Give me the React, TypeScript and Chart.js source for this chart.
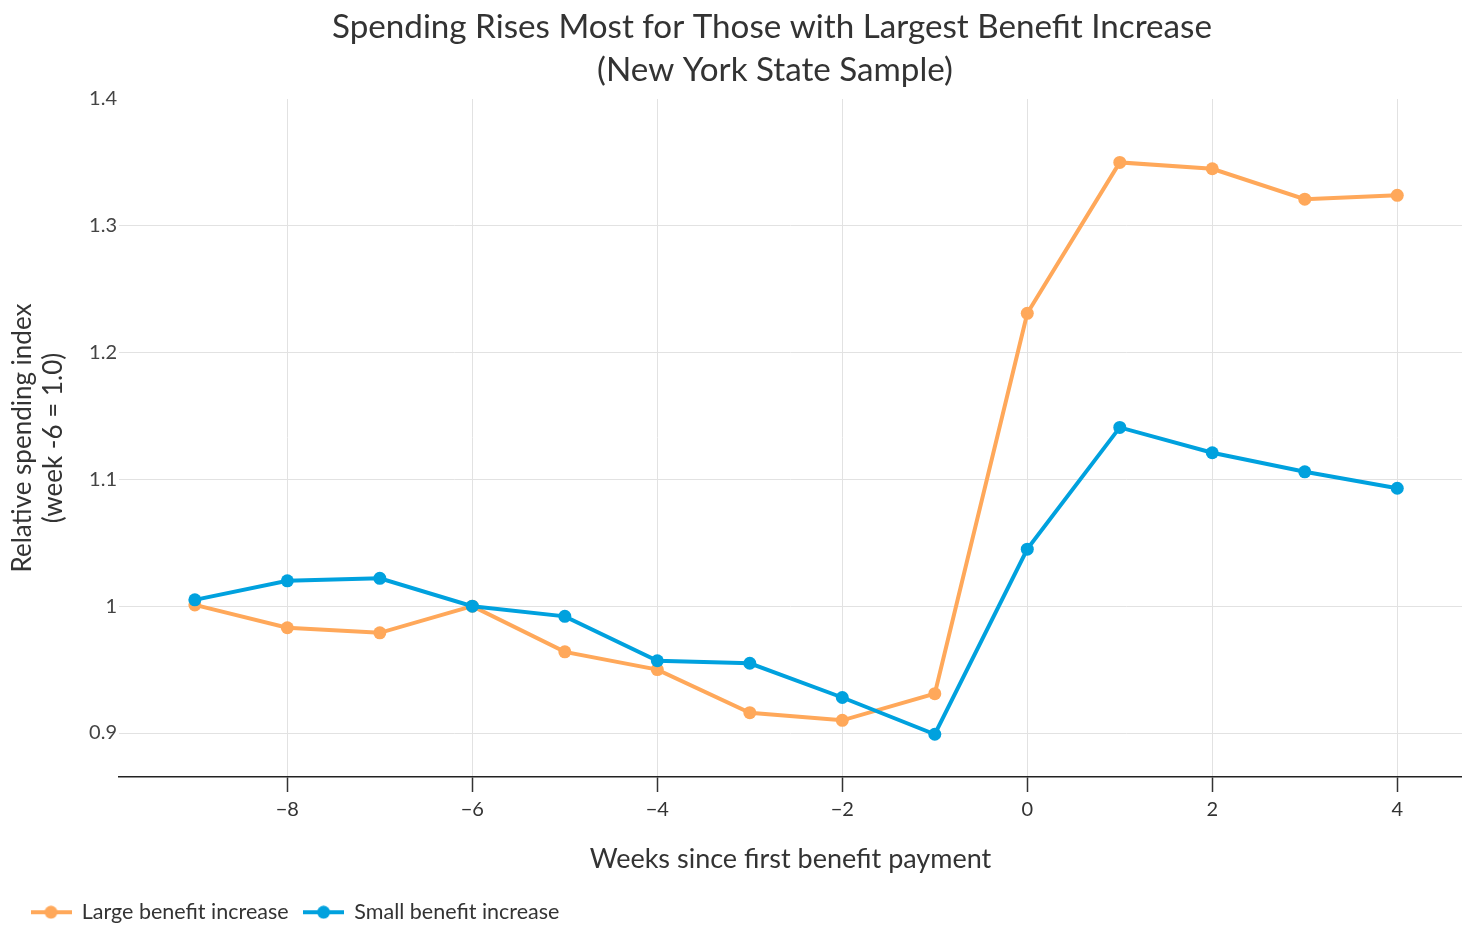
import React, { useEffect, useRef } from "react";
import { Chart, registerables } from "chart.js";

Chart.register(...registerables);

const weeks = [-9, -8, -7, -6, -5, -4, -3, -2, -1, 0, 1, 2, 3, 4];
const largeIncrease = [1.001, 0.983, 0.979, 1.0, 0.964, 0.95, 0.916, 0.91, 0.931, 1.231, 1.35, 1.345, 1.321, 1.324];
const smallIncrease = [1.005, 1.02, 1.022, 1.0, 0.992, 0.957, 0.955, 0.928, 0.899, 1.045, 1.141, 1.121, 1.106, 1.093];
const xTickValues = [-8, -6, -4, -2, 0, 2, 4];
const xTickLabels = ["\u22128", "\u22126", "\u22124", "\u22122", "0", "2", "4"];
const yTickValues = [0.9, 1.0, 1.1, 1.2, 1.3, 1.4];
const yTickLabels = ["0.9", "1", "1.1", "1.2", "1.3", "1.4"];
const titleLines = ["Spending Rises Most for Those with Largest Benefit Increase", "(New York State Sample)"];
const seriesNames = ["Large benefit increase", "Small benefit increase"];
const seriesColors = ["#FFA85A", "#00A1DE"];
const xTitle = "Weeks since first benefit payment";
const yTitle = ["Relative spending index", "(week -6 = 1.0)"];

const FONT = "Lato, 'Open Sans', sans-serif";

function legendSwatch(color: string): HTMLCanvasElement {
  const c = document.createElement("canvas");
  c.width = 41;
  c.height = 14;
  const ctx = c.getContext("2d")!;
  ctx.strokeStyle = color;
  ctx.lineWidth = 4;
  ctx.beginPath();
  ctx.moveTo(0, 7);
  ctx.lineTo(41, 7);
  ctx.stroke();
  ctx.fillStyle = color;
  ctx.beginPath();
  ctx.arc(20.5, 7, 6.5, 0, Math.PI * 2);
  ctx.fill();
  return c;
}

const titlePlugin = {
  id: "customTitle",
  afterDraw(chart: any) {
    const ctx = chart.ctx;
    ctx.save();
    ctx.fillStyle = "#333333";
    ctx.font = `33.2px ${FONT}`;
    ctx.textAlign = "center";
    ctx.textBaseline = "middle";
    ctx.fillText(titleLines[0], 772, 27);
    ctx.fillText(titleLines[1], 775, 70);
    ctx.restore();
  },
};

export default function App() {
  const ref = useRef<HTMLCanvasElement | null>(null);

  useEffect(() => {
    if (!ref.current) return;
    const swatches = seriesColors.map(legendSwatch);
    const chart = new Chart(ref.current, {
      type: "line",
      data: {
        datasets: [
          {
            label: seriesNames[0],
            data: weeks.map((w, i) => ({ x: w, y: largeIncrease[i] })),
            borderColor: seriesColors[0],
            backgroundColor: seriesColors[0],
            pointBackgroundColor: seriesColors[0],
            borderWidth: 4,
            pointRadius: 6.5,
            pointBorderWidth: 0,
            tension: 0,
            order: 1,
          },
          {
            label: seriesNames[1],
            data: weeks.map((w, i) => ({ x: w, y: smallIncrease[i] })),
            borderColor: seriesColors[1],
            backgroundColor: seriesColors[1],
            pointBackgroundColor: seriesColors[1],
            borderWidth: 4,
            pointRadius: 6.5,
            pointBorderWidth: 0,
            tension: 0,
            order: 0,
          },
        ],
      },
      options: {
        animation: false,
        responsive: true,
        maintainAspectRatio: false,
        layout: { autoPadding: false, padding: { top: 99, left: 16, right: 0, bottom: -7 } },
        plugins: {
          title: { display: false },
          tooltip: { enabled: false },
          legend: {
            position: "bottom",
            align: "start",
            labels: {
              usePointStyle: true,
              pointStyleWidth: 40,
              padding: 15,
              color: "#333333",
              font: { family: FONT, size: 21.5 },
              generateLabels: (c: any) =>
                c.data.datasets.map((ds: any, i: number) => ({
                  text: ds.label,
                  fillStyle: seriesColors[i],
                  strokeStyle: seriesColors[i],
                  lineWidth: 0,
                  pointStyle: swatches[i],
                  hidden: false,
                  datasetIndex: i,
                  fontColor: "#333333",
                })),
            },
          },
        },
        scales: {
          x: {
            type: "linear",
            min: -9.82,
            max: 4.7,
            afterBuildTicks: (axis: any) => {
              axis.ticks = xTickValues.map((v) => ({ value: v }));
            },
            afterFit: (axis: any) => {
              axis.height = 109.5;
              axis.paddingLeft = 0;
              axis.paddingRight = 0;
            },
            ticks: {
              color: "#333333",
              font: { family: FONT, size: 20 },
              padding: 6,
              maxRotation: 0,
              autoSkip: false,
              callback: (v: any) => {
                const idx = xTickValues.indexOf(Number(v));
                return idx >= 0 ? xTickLabels[idx] : "";
              },
            },
            grid: {
              color: "#E2E2E2",
              lineWidth: 1,
              drawTicks: true,
              tickLength: 15,
              tickColor: "#333333",
              tickWidth: 1.5,
            },
            border: { display: true, color: "#222222", width: 1.5 },
            title: {
              display: true,
              text: xTitle,
              color: "#333333",
              font: { family: FONT, size: 27, lineHeight: 1.2 },
              padding: { top: 0, bottom: 11.5 },
            },
          },
          y: {
            type: "linear",
            min: 0.8653,
            max: 1.4,
            afterBuildTicks: (axis: any) => {
              axis.ticks = yTickValues.map((v) => ({ value: v }));
            },
            afterFit: (axis: any) => {
              axis.width = 103;
              axis.paddingTop = 0;
              axis.paddingBottom = 0;
            },
            ticks: {
              color: "#444444",
              font: { family: FONT, size: 20 },
              padding: 2,
              autoSkip: false,
              callback: (v: any) => {
                const idx = yTickValues.findIndex((t) => Math.abs(t - Number(v)) < 1e-6);
                return idx >= 0 ? yTickLabels[idx] : "";
              },
            },
            grid: {
              color: (ctx: any) => (ctx.tick && Math.abs(ctx.tick.value - 1.4) < 1e-6 ? "rgba(0,0,0,0)" : "#E2E2E2"),
              lineWidth: 1,
              drawTicks: false,
            },
            border: { display: false },
            title: {
              display: true,
              text: yTitle,
              color: "#333333",
              font: { family: FONT, size: 26, lineHeight: 1.19 },
              padding: { top: -8.5, bottom: 0 },
            },
          },
        },
      },
      plugins: [titlePlugin],
    } as any);
    return () => chart.destroy();
  }, []);

  return (
    <div style={{ position: "absolute", left: 0, top: 0, width: 1462, height: 926, background: "#ffffff" }}>
      <canvas ref={ref} />
    </div>
  );
}
